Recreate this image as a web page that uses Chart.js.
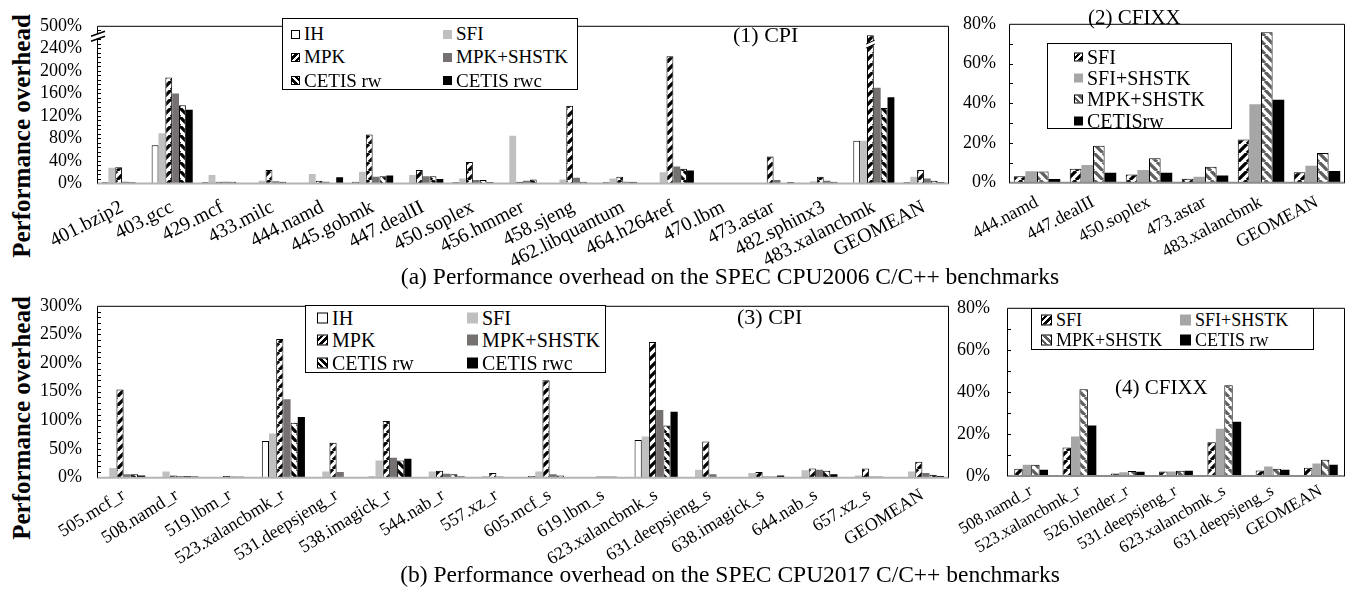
<!DOCTYPE html>
<html>
<head>
<meta charset="utf-8">
<script src="https://cdn.jsdelivr.net/npm/chart.js@4.4.0/dist/chart.umd.min.js"></script>
<style>
body { margin: 0; background: #fff; width: 1367px; height: 597px; position: relative; overflow: hidden;
       font-family: 'Liberation Serif', 'Times New Roman', serif; color: #000; }
.box { position: absolute; }
.ytitle { position: absolute; font-weight: bold; font-size: 25px; white-space: nowrap;
          transform: translate(-50%, -50%) rotate(-90deg); }
.cap { position: absolute; font-size: 23.5px; white-space: nowrap; transform: translate(-50%, -50%); }
.lbl { position: absolute; white-space: nowrap; transform: translateY(-50%); }
.legend { position: absolute; border: 1px solid #000; background: #fff; box-sizing: border-box; }
.item { position: absolute; white-space: nowrap; display: flex; align-items: center; transform: translateY(-50%); }
.sw { box-sizing: border-box; margin-right: 4px; flex: none; }
</style>
</head>
<body>

<div class="ytitle" style="left:22px;top:136px">Performance overhead</div>
<div class="ytitle" style="left:22px;top:418px">Performance overhead</div>

<div class="box" style="left:0;top:0"><canvas id="c1" width="952" height="268"></canvas></div>
<div class="box" style="left:950px;top:0"><canvas id="c2" width="417" height="268"></canvas></div>
<div class="box" style="left:0;top:280px"><canvas id="c3" width="952" height="285"></canvas></div>
<div class="box" style="left:950px;top:280px"><canvas id="c4" width="417" height="285"></canvas></div>

<div class="cap" style="left:730px;top:276px">(a) Performance overhead on the SPEC CPU2006 C/C++ benchmarks</div>
<div class="cap" style="left:730px;top:574px">(b) Performance overhead on the SPEC CPU2017 C/C++ benchmarks</div>

<div class="lbl" style="left:733px;top:35px;font-size:22px">(1) CPI</div>
<div class="lbl" style="left:1088px;top:17px;font-size:21px">(2) CFIXX</div>
<div class="lbl" style="left:737px;top:317px;font-size:22px">(3) CPI</div>
<div class="lbl" style="left:1115px;top:387px;font-size:21px">(4) CFIXX</div>

<script>
// (1) SPEC CPU2006 - CPI
const cats1 = ['401.bzip2', '403.gcc', '429.mcf', '433.milc', '444.namd', '445.gobmk', '447.dealII', '450.soplex',
  '456.hmmer', '458.sjeng', '462.libquantum', '464.h264ref', '470.lbm', '473.astar', '482.sphinx3', '483.xalancbmk', 'GEOMEAN'];
const ih1       = [2, 68, 2, 1, 1, 3, 1, 2, 1, 1, 2, 1, 1, 0.5, 1, 76, 2];
const sfi1      = [28, 89, 15, 5, 17, 21, 15, 9, 85, 7, 9, 20, 0.5, 0.5, 4, 76, 12];
const mpk1      = [29, 188, 3, 24, 5, 87, 24, 38, 3, 138, 12, 226, 1, 48, 12, 263, 24];
const mpkShstk1 = [3, 160, 3, 4, 3, 12, 13, 6, 5, 10, 3, 30, 1, 6, 5, 170, 9];
const rw1       = [2, 139, 3, 3, 1, 13, 13, 6, 7, 3, 3, 26, 1, 1, 3, 134, 5];
const rwc1      = [1, 131, 1, 1, 11, 14, 8, 2, 1, 1, 1, 23, 1, 2, 1, 153, 2];
const ticks1    = ['0%', '40%', '80%', '120%', '160%', '200%', '240%', '500%'];

// (2) SPEC CPU2006 - CFIXX
const cats2 = ['444.namd', '447.dealII', '450.soplex', '473.astar', '483.xalancbmk', 'GEOMEAN'];
const sfi2      = [3.2, 7, 4.1, 2, 21.7, 5.3];
const sfiShstk2 = [5.8, 8.9, 6.4, 3, 39.5, 8.5];
const mpkShstk2 = [5.6, 18.6, 12.3, 8, 75.8, 15];
const rw2       = [1.8, 5, 5, 3.6, 41.7, 5.9];

// (3) SPEC CPU2017 - CPI
const cats3 = ['505.mcf_r', '508.namd_r', '519.lbm_r', '523.xalancbmk_r', '531.deepsjeng_r', '538.imagick_r', '544.nab_r',
  '557.xz_r', '605.mcf_s', '619.lbm_s', '623.xalancbmk_s', '631.deepsjeng_s', '638.imagick_s', '644.nab_s', '657.xz_s', 'GEOMEAN'];
const ih3       = [1, 1, 0.5, 64, 1, 2, 1, 1, 3, 0.5, 66, 1, 1, 1, 1, 1];
const sfi3      = [17, 11, 0.5, 77, 11, 30, 11, 3, 11, 1, 72, 14, 8, 13, 4, 11];
const mpk3      = [154, 4, 3, 242, 61, 99, 12, 8, 170, 2, 237, 63, 10, 16, 16, 28];
const mpkShstk3 = [6, 3, 2, 137, 10, 35, 7, 2, 6, 2, 118, 6, 2, 14, 2, 8];
const rw3       = [6, 3, 2, 96, 1, 30, 6, 1, 4, 2, 91, 1, 2, 12, 2, 5];
const rwc3      = [4, 2, 1, 106, 1, 33, 2, 1, 1, 1, 115, 1, 4, 6, 1, 3];

// (4) SPEC CPU2017 - CFIXX
const cats4 = ['508.namd_r', '523.xalancbmk_r', '526.blender_r', '531.deepsjeng_r', '623.xalancbmk_s', '631.deepsjeng_s', 'GEOMEAN'];
const sfi4      = [3.5, 13.5, 1.2, 2.1, 16, 2.6, 3.9];
const sfiShstk4 = [5.3, 18.8, 1.8, 2.1, 22.5, 4.5, 5.9];
const mpkShstk4 = [5.3, 41.3, 2.4, 2.5, 43.2, 3.5, 7.7];
const rw4       = [3, 24, 2, 2.5, 25.8, 3, 5.4];

const FONT = "'Liberation Serif', 'Times New Roman', serif";

// hatch patterns for the striped bars
function hatch(dir, fg) {
  const n = 9;
  const c = document.createElement('canvas');
  c.width = n; c.height = n;
  const g = c.getContext('2d');
  g.fillStyle = '#fff';
  g.fillRect(0, 0, n, n);
  g.strokeStyle = fg;
  g.lineWidth = 3.3;
  g.beginPath();
  for (let k = -n; k <= n; k += n) {
    if (dir === '/') { g.moveTo(k, n); g.lineTo(k + n, 0); }
    else { g.moveTo(k, 0); g.lineTo(k + n, n); }
  }
  g.stroke();
  return g.createPattern(c, 'repeat');
}
const fwdBlack = hatch('/', '#000');
const backBlack = hatch('\\', '#000');
const backGray = hatch('\\', '#5f5f5f');

function ds(label, data, fill, border) {
  return {
    label, data,
    backgroundColor: fill,
    borderColor: '#000',
    borderWidth: border ? 1 : 0,
    borderSkipped: 'start'
  };
}

// frame, baseline, inward minor ticks
const framePlugin = {
  id: 'frame',
  afterDatasetsDraw(chart, args, opts) {
    const { ctx, chartArea: a } = chart;
    const y = chart.scales.y;
    ctx.save();
    ctx.strokeStyle = opts.base;
    ctx.lineWidth = 2;
    ctx.beginPath();
    ctx.moveTo(a.left, a.bottom);
    ctx.lineTo(a.right, a.bottom);
    ctx.stroke();
    ctx.strokeStyle = '#000';
    ctx.lineWidth = 1;
    ctx.beginPath();
    ctx.moveTo(a.left + 0.5, a.bottom);
    ctx.lineTo(a.left + 0.5, a.top + 0.5);
    ctx.lineTo(a.right - 0.5, a.top + 0.5);
    ctx.lineTo(a.right - 0.5, a.bottom);
    for (let v = opts.minor; v < y.max; v += opts.minor) {
      const p = Math.round(y.getPixelForValue(v)) + 0.5;
      ctx.moveTo(a.left, p);
      ctx.lineTo(a.left + 4, p);
    }
    ctx.stroke();
    ctx.restore();
  }
};

// broken axis + broken bar (panel 1 only)
const breakPlugin = {
  id: 'axisBreak',
  afterDraw(chart, args, opts) {
    if (!opts || !opts.on) return;
    const { ctx, chartArea: a } = chart;
    const y = chart.scales.y;
    ctx.save();
    // bar break
    const bar = chart.getDatasetMeta(opts.dataset).data[opts.index];
    const x0 = bar.x - bar.width / 2 - 1, x1 = bar.x + bar.width / 2 + 1;
    const y1 = y.getPixelForValue(opts.from), y2 = y.getPixelForValue(opts.to);
    ctx.fillStyle = '#fff';
    ctx.beginPath();
    ctx.moveTo(x0, y1 + 2); ctx.lineTo(x1, y1 - 2); ctx.lineTo(x1, y2 - 2); ctx.lineTo(x0, y2 + 2);
    ctx.closePath();
    ctx.fill();
    ctx.strokeStyle = '#000';
    ctx.lineWidth = 1;
    ctx.beginPath();
    ctx.moveTo(x0, y1 + 2); ctx.lineTo(x1, y1 - 2);
    ctx.moveTo(x0, y2 + 2); ctx.lineTo(x1, y2 - 2);
    ctx.stroke();
    // axis break
    const p = y.getPixelForValue(opts.axisAt);
    const L = a.left;
    ctx.fillStyle = '#fff';
    ctx.beginPath();
    ctx.moveTo(L - 6, p + 2); ctx.lineTo(L + 8, p - 3); ctx.lineTo(L + 8, p + 2); ctx.lineTo(L - 6, p + 7);
    ctx.closePath();
    ctx.fill();
    ctx.lineWidth = 1.5;
    ctx.beginPath();
    ctx.moveTo(L - 6, p + 2); ctx.lineTo(L + 8, p - 3);
    ctx.moveTo(L - 6, p + 7); ctx.lineTo(L + 8, p + 2);
    ctx.stroke();
    ctx.restore();
  }
};

function makeChart(id, cfg) {
  cfg.datasets.forEach(d => { d.categoryPercentage = cfg.cp; d.barPercentage = 1; });
  return new Chart(document.getElementById(id), {
    type: 'bar',
    data: { labels: cfg.labels, datasets: cfg.datasets },
    plugins: [framePlugin, breakPlugin],
    options: {
      responsive: false,
      animation: false,
      devicePixelRatio: 1,
      layout: { padding: cfg.padding },
      plugins: {
        legend: { display: false },
        tooltip: { enabled: false },
        frame: { base: cfg.base, minor: cfg.minor },
        axisBreak: cfg.brk || { on: false }
      },
      scales: {
        x: {
          grid: { display: false, drawTicks: false },
          border: { display: false },
          ticks: { font: { family: FONT, size: cfg.xFont }, color: '#000', minRotation: cfg.rot, maxRotation: cfg.rot,
                   autoSkip: false, padding: cfg.xPad },
          afterFit: s => { s.height = cfg.xHeight; }
        },
        y: {
          min: 0, max: cfg.max,
          grid: { display: false, drawTicks: false },
          border: { display: false },
          ticks: { stepSize: cfg.step, autoSkip: false, font: { family: FONT, size: 18 }, color: '#000',
                   padding: cfg.yPad, callback: cfg.fmt },
          afterFit: s => { s.width = cfg.yWidth; }
        }
      }
    }
  });
}

makeChart('c1', {
  labels: cats1, cp: 0.82, rot: 27, xFont: 20, xPad: 12, xHeight: 84.5, yWidth: 97, yPad: 15,
  padding: { top: 8, right: 3, left: 0, bottom: 0 },
  max: 280, step: 40, minor: 8, base: '#b4b4b4',
  fmt: (v, i) => ticks1[i],
  brk: { on: true, dataset: 2, index: 15, from: 244, to: 251, axisAt: 265 },
  datasets: [
    ds('IH', ih1, '#fff', true),
    ds('SFI', sfi1, '#c0c0c0', false),
    ds('MPK', mpk1, fwdBlack, true),
    ds('MPK+SHSTK', mpkShstk1, '#767171', false),
    ds('CETIS rw', rw1, backBlack, true),
    ds('CETIS rwc', rwc1, '#000', false)
  ]
});

makeChart('c2', {
  labels: cats2, cp: 0.83, rot: 28, xFont: 18, xPad: 9, xHeight: 85.3, yWidth: 59, yPad: 13,
  padding: { top: 7, right: 22, left: 0, bottom: 0 },
  max: 80, step: 20, minor: 10, base: '#8c8c8c',
  fmt: v => v + '%',
  datasets: [
    ds('SFI', sfi2, fwdBlack, true),
    ds('SFI+SHSTK', sfiShstk2, '#a6a6a6', false),
    ds('MPK+SHSTK', mpkShstk2, backGray, true),
    ds('CETISrw', rw2, '#000', false)
  ]
});

makeChart('c3', {
  labels: cats3, cp: 0.81, rot: 32, xFont: 18, xPad: 7, xHeight: 87.3, yWidth: 97, yPad: 15,
  padding: { top: 21.7, right: 3, left: 0, bottom: 0 },
  max: 300, step: 50, minor: 10, base: '#b4b4b4',
  fmt: v => v + '%',
  datasets: [
    ds('IH', ih3, '#fff', true),
    ds('SFI', sfi3, '#c0c0c0', false),
    ds('MPK', mpk3, fwdBlack, true),
    ds('MPK+SHSTK', mpkShstk3, '#767171', false),
    ds('CETIS rw', rw3, backBlack, true),
    ds('CETIS rwc', rwc3, '#000', false)
  ]
});

makeChart('c4', {
  labels: cats4, cp: 0.7, rot: 30, xFont: 17, xPad: 5, xHeight: 89, yWidth: 57, yPad: 17,
  padding: { top: 18.3, right: 22, left: 0, bottom: 0 },
  max: 80, step: 20, minor: 10, base: '#8c8c8c',
  fmt: v => v + '%',
  datasets: [
    ds('SFI', sfi4, fwdBlack, true),
    ds('SFI+SHSTK', sfiShstk4, '#a6a6a6', false),
    ds('MPK+SHSTK', mpkShstk4, backGray, true),
    ds('CETIS rw', rw4, '#000', false)
  ]
});

// legends (html, inside the plot frames)
const SW = {
  white: 'background:#fff;border:1px solid #000',
  light: 'background:#c0c0c0',
  mid: 'background:#a6a6a6',
  dark: 'background:#767171',
  black: 'background:#000',
  fwd: 'background:repeating-linear-gradient(135deg,#fff 0 2px,#000 2px 4.5px);border:1px solid #000',
  back: 'background:repeating-linear-gradient(45deg,#fff 0 2px,#000 2px 4.5px);border:1px solid #000',
  backGray: 'background:repeating-linear-gradient(45deg,#fff 0 2px,#5f5f5f 2px 4.5px);border:1px solid #000'
};

function legend(box, items) {
  const el = document.createElement('div');
  el.className = 'legend';
  el.style.cssText = `left:${box.left}px;top:${box.top}px;width:${box.w}px;height:${box.h}px;font-size:${box.font}px`;
  items.forEach((it, i) => {
    const col = i % box.cols.length, row = Math.floor(i / box.cols.length);
    const d = document.createElement('div');
    d.className = 'item';
    d.style.left = box.cols[col] + 'px';
    d.style.top = (box.row0 + row * box.gap) + 'px';
    d.innerHTML = `<span class="sw" style="width:${box.sw}px;height:${box.sw}px;${SW[it[1]]}"></span>${it[0]}`;
    el.appendChild(d);
  });
  document.body.appendChild(el);
}

legend({ left: 282, top: 18, w: 296, h: 72, font: 19, cols: [8, 160], row0: 15, gap: 23.3, sw: 9 },
  [['IH', 'white'], ['SFI', 'light'], ['MPK', 'fwd'], ['MPK+SHSTK', 'dark'], ['CETIS rw', 'back'], ['CETIS rwc', 'black']]);
legend({ left: 1047, top: 43, w: 185, h: 86, font: 20, cols: [26], row0: 13, gap: 21.2, sw: 9 },
  [['SFI', 'fwd'], ['SFI+SHSTK', 'mid'], ['MPK+SHSTK', 'backGray'], ['CETISrw', 'black']]);
legend({ left: 305, top: 305, w: 301, h: 68, font: 20, cols: [11, 161], row0: 11.5, gap: 22.5, sw: 11 },
  [['IH', 'white'], ['SFI', 'light'], ['MPK', 'fwd'], ['MPK+SHSTK', 'dark'], ['CETIS rw', 'back'], ['CETIS rwc', 'black']]);
legend({ left: 1031, top: 308, w: 283, h: 42, font: 18, cols: [9, 148], row0: 11, gap: 20, sw: 11 },
  [['SFI', 'fwd'], ['SFI+SHSTK', 'mid'], ['MPK+SHSTK', 'backGray'], ['CETIS rw', 'black']]);
</script>
</body>
</html>
